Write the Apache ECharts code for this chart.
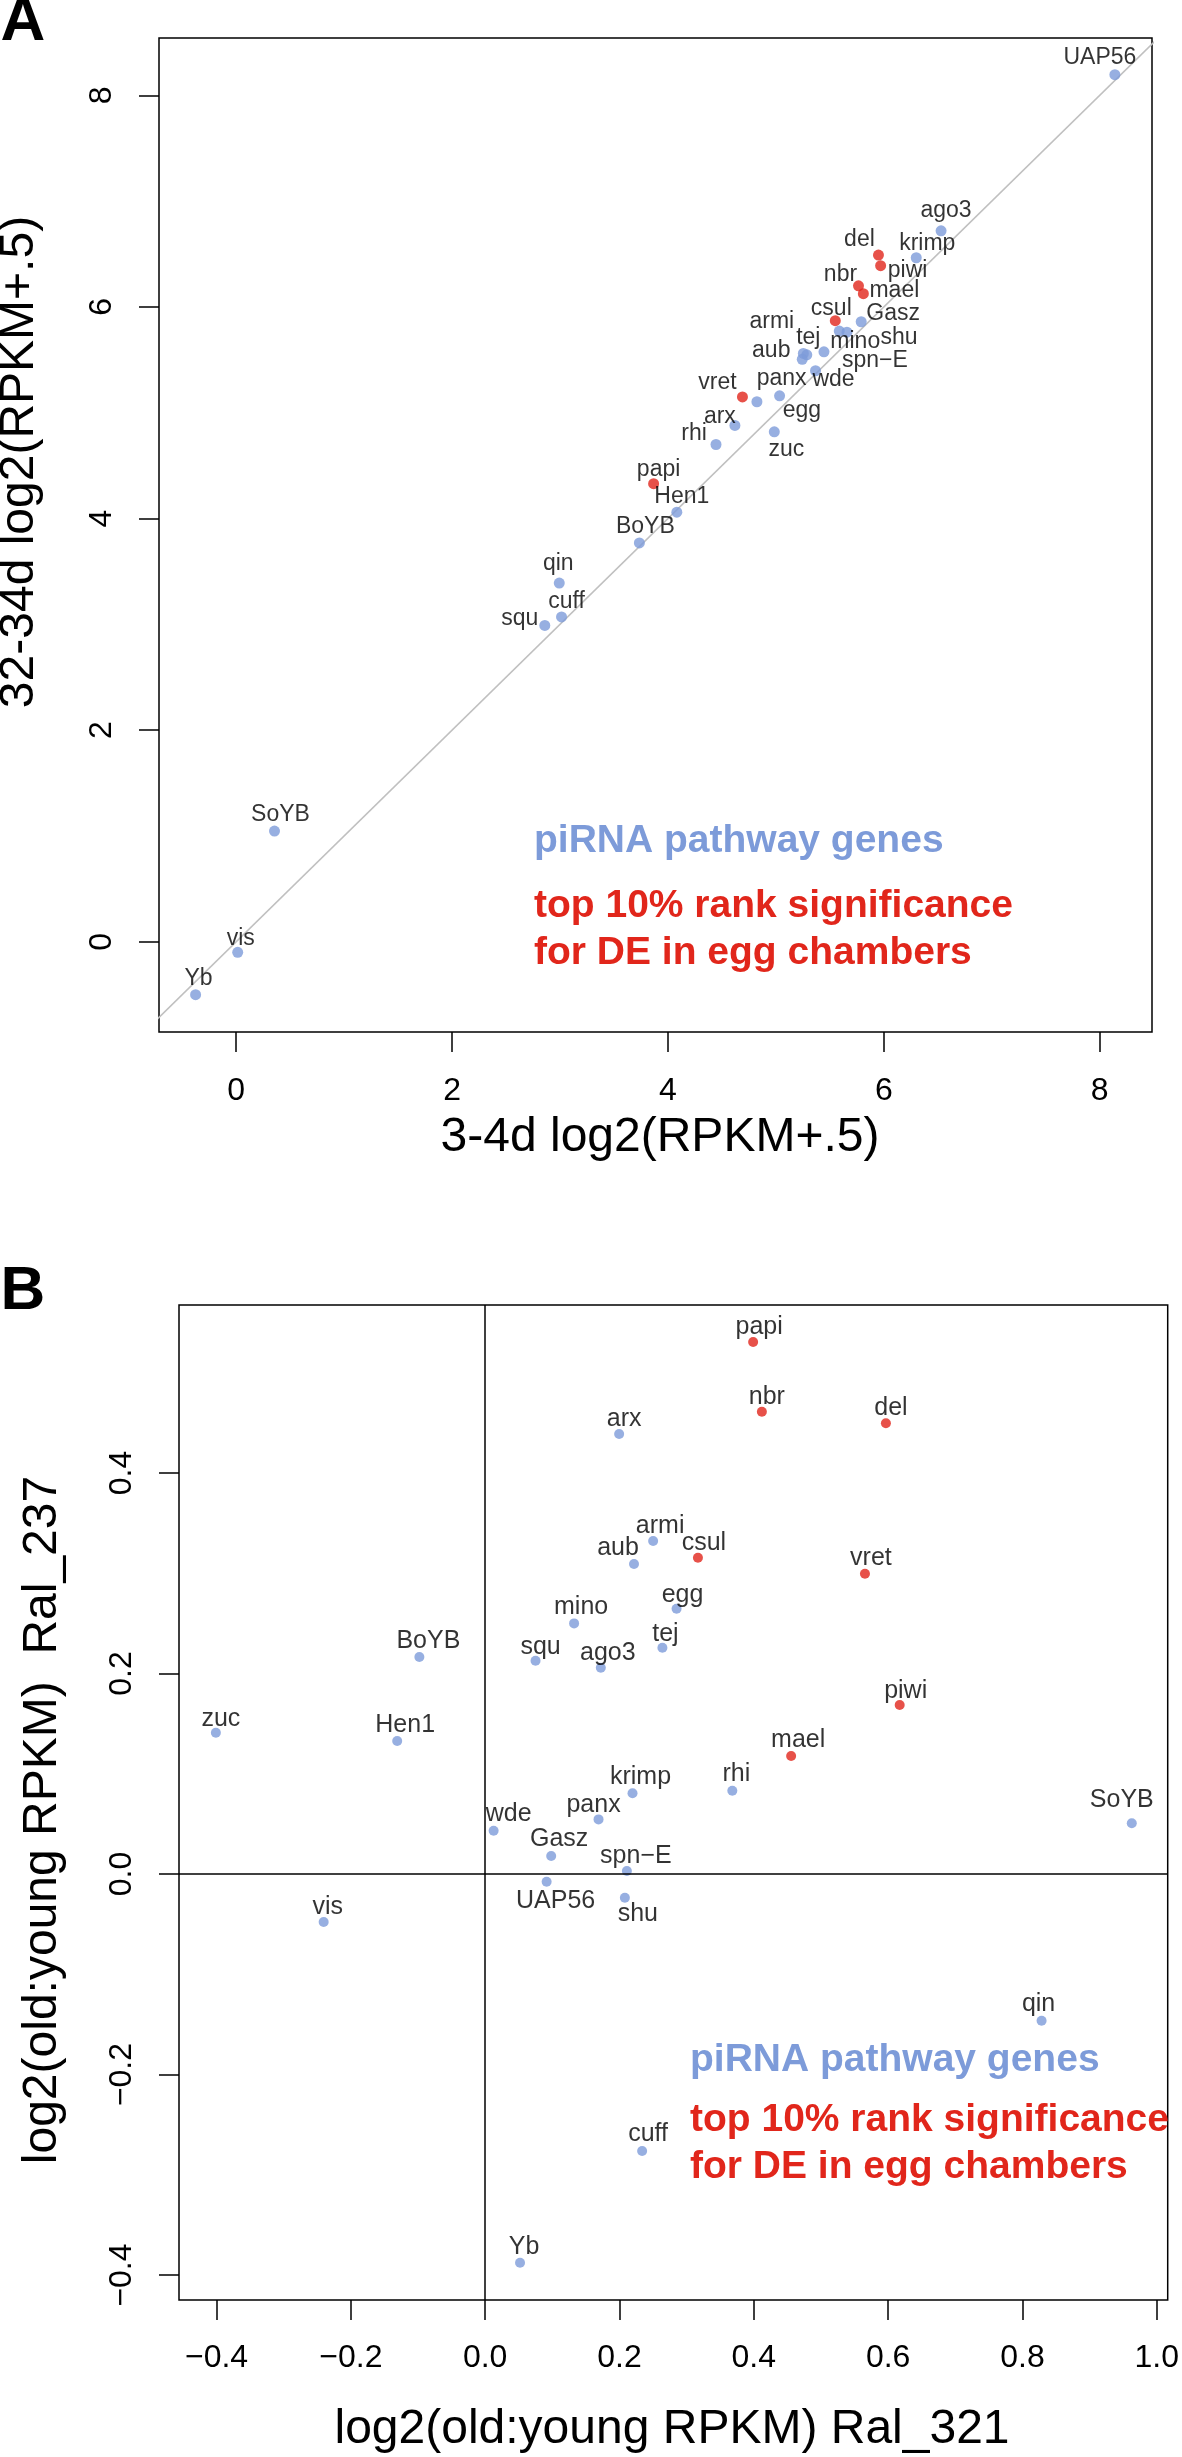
<!DOCTYPE html>
<html><head><meta charset="utf-8">
<script src="https://cdn.jsdelivr.net/npm/echarts@6/dist/echarts.min.js"></script>
<style>html,body{margin:0;padding:0;background:#fff}#c{width:1182px;height:2457px}</style>
</head><body><div id="c"></div>
<script>
// ---------------- data ----------------
const genes = ['UAP56','ago3','krimp','del','piwi','nbr','mael','csul','Gasz','armi','tej','mino','shu','aub','spn-E','panx','wde','vret','arx','egg','rhi','zuc','papi','Hen1','BoYB','qin','cuff','squ','SoYB','vis','Yb'];
const deGenes = ['del','piwi','nbr','mael','csul','vret','papi'];
// Panel A: log2(RPKM+.5)
const young34d = [8.14,6.53,6.30,5.95,5.97,5.765,5.81,5.55,5.79,5.286,5.254,5.587,5.658,5.244,5.445,5.034,5.367,4.69,4.62,4.824,4.445,4.985,3.867,4.082,3.735,2.993,3.014,2.859,0.355,0.014,-0.376];
const old3234d = [8.195,6.72,6.465,6.49,6.39,6.20,6.125,5.87,5.86,5.548,5.561,5.772,5.762,5.505,5.576,5.16,5.397,5.15,4.88,5.104,4.70,4.82,4.33,4.06,3.77,3.39,3.07,2.99,1.046,-0.10,-0.50];
// Panel B: log2(old:young RPKM)
const ral321 = [0.0915,0.1722,0.2194,0.5967,0.6172,0.412,0.4556,0.3168,0.0983,0.2501,0.2639,0.1324,0.208,0.2216,0.211,0.1688,0.0126,0.5655,0.1995,0.285,0.368,-0.401,0.399,-0.131,-0.098,0.8285,0.2337,0.075,0.9628,-0.2405,0.0519];
const ral237 = [-0.0077,0.2058,0.0805,0.4496,0.1686,0.4612,0.1177,0.3155,0.018,0.3322,0.2258,0.25,-0.0236,0.3092,0.003,0.0545,0.0432,0.2996,0.4389,0.2647,0.0831,0.141,0.5307,0.1327,0.2165,-0.1463,-0.2763,0.2128,0.0506,-0.0479,-0.3877];
const ticksA = [0,2,4,6,8];
const ticksBx = [-0.4,-0.2,0,0.2,0.4,0.6,0.8,1.0];
const ticksBy = [-0.4,-0.2,0,0.2,0.4];
const diagA = [-1,9];
const legendLines = ['piRNA pathway genes','top 10% rank significance','for DE in egg chambers'];

// ---------------- styles (label offsets in px) ----------------
const offA = {UAP56:[-15,-17],ago3:[5,-20],krimp:[11,-14],del:[-19,-15],piwi:[27,5],nbr:[-18,-11],mael:[31,-3],csul:[-4,-12],Gasz:[32,-8],armi:[-35,-33],tej:[5,-16],mino:[16,11],shu:[52,6],aub:[-31,-9],'spn-E':[51,9],panx:[2,-17],wde:[18,9],vret:[-25,-14],arx:[-15,-9],egg:[45,9],rhi:[-22,-11],zuc:[12,18],papi:[5,-14],Hen1:[5,-16],BoYB:[6,-16],qin:[-1,-19],cuff:[5,-15],squ:[-25,-7],SoYB:[6,-16],vis:[3,-14],Yb:[3,-16]};
const offB = {UAP56:[9,19],ago3:[7,-15],krimp:[8,-16],del:[5,-15],piwi:[6,-14],nbr:[5,-15],mael:[7,-16],csul:[6,-15],Gasz:[8,-17],armi:[7,-15],tej:[3,-14],mino:[7,-16],shu:[13,16],aub:[-16,-16],'spn-E':[9,-15],panx:[-5,-14],wde:[15,-17],vret:[6,-16],arx:[5,-15],egg:[6,-14],rhi:[4,-17],zuc:[5,-14],papi:[6,-15],Hen1:[8,-16],BoYB:[9,-16],qin:[-3,-17],cuff:[6,-17],squ:[5,-14],SoYB:[-10,-23],vis:[4,-15],Yb:[4,-16]};
const BLUE = '#7d9bd9', RED = '#e1261b', FONT = '"Liberation Sans", Arial, Helvetica, sans-serif';

function pts(xs, ys, offs) {
  return genes.map((g, i) => ({
    name: g, value: [xs[i], ys[i]],
    itemStyle: {color: deGenes.includes(g) ? RED : BLUE},
    label: {offset: offs[g]}
  }));
}
const nameFmt = p => p.name.replace('-', '\u2212');
function fmt(v) { return (Math.round(v * 10) / 10).toFixed(1).replace('-', '\u2212'); }
function axisCommon(ticks, margin, rotate, formatter) {
  return {
    type: 'value', axisLine: {show: false, onZero: false}, splitLine: {show: false},
    axisTick: {show: true, inside: false, length: 20, customValues: ticks, lineStyle: {color: '#000', width: 1.5}},
    axisLabel: {customValues: ticks, margin: margin, rotate: rotate, fontSize: 32, lineHeight: 32, color: '#000', fontFamily: FONT, formatter: formatter}
  };
}
const chart = echarts.init(document.getElementById('c'), null, {renderer: 'canvas'});
const txt = (t, x, y, size, color, weight, rot, align) => ({
  type: 'text', x: x, y: y, rotation: rot || 0, silent: true,
  style: {text: t, fill: color, font: (weight || 'normal') + ' ' + size + 'px ' + FONT, align: align || 'center', verticalAlign: 'middle'}
});
chart.setOption({
  animation: false,
  backgroundColor: '#fff',
  grid: [
    {left: 159, top: 38, width: 993, height: 994, show: true, borderColor: '#000', borderWidth: 1.5, backgroundColor: 'transparent'},
    {left: 179, top: 1305, width: 993, height: 995, show: true, borderColor: '#000', borderWidth: 1.5, backgroundColor: 'transparent'}
  ],
  xAxis: [
    Object.assign(axisCommon(ticksA, 43, 0, v => String(v)), {gridIndex: 0, position: 'bottom', min: -0.715, max: 8.484}),
    Object.assign(axisCommon(ticksBx, 42, 0, fmt), {gridIndex: 1, position: 'bottom', min: -0.4559, max: 1.0163})
  ],
  yAxis: [
    Object.assign(axisCommon(ticksA, 41, 90, v => String(v)), {gridIndex: 0, position: 'left', min: -0.853, max: 8.542}),
    Object.assign(axisCommon(ticksBy, 41, 90, fmt), {gridIndex: 1, position: 'left', min: -0.4249, max: 0.5676})
  ],
  series: [
    {type: 'line', xAxisIndex: 0, yAxisIndex: 0, data: diagA.map(v => [v, v]), showSymbol: false, clip: true, silent: true,
     lineStyle: {color: '#c0c0c0', width: 1.6}, z: 1},
    {type: 'scatter', xAxisIndex: 0, yAxisIndex: 0, symbolSize: 11, z: 3,
     data: pts(young34d, old3234d, offA),
     label: {show: true, formatter: nameFmt, position: 'inside', align: 'center', verticalAlign: 'middle', fontSize: 23, color: '#000', fontFamily: FONT}},
    {type: 'scatter', xAxisIndex: 1, yAxisIndex: 1, symbolSize: 10, z: 3,
     data: pts(ral321, ral237, offB),
     label: {show: true, formatter: nameFmt, position: 'inside', align: 'center', verticalAlign: 'middle', fontSize: 25, color: '#000', fontFamily: FONT},
     markLine: {silent: true, symbol: 'none', label: {show: false}, lineStyle: {color: '#000', width: 1.5, type: 'solid'},
       data: [{xAxis: 0}, {yAxis: 0}]}}
  ],
  graphic: [
    txt('A', 23, 23, 62, '#000', 'bold'),
    txt('B', 23, 1292, 62, '#000', 'bold'),
    txt('32-34d log2(RPKM+.5)', 20, 462, 48, '#000', 'normal', Math.PI / 2),
    txt('3-4d log2(RPKM+.5)', 660, 1138, 48, '#000'),
    txt('log2(old:young RPKM)  Ral_237', 43, 1820, 48, '#000', 'normal', Math.PI / 2),
    txt('log2(old:young RPKM) Ral_321', 672, 2430, 48, '#000'),
    txt(legendLines[0], 534, 841, 39, BLUE, 'bold', 0, 'left'),
    txt(legendLines[1], 534, 906, 39, RED, 'bold', 0, 'left'),
    txt(legendLines[2], 534, 953, 39, RED, 'bold', 0, 'left'),
    txt(legendLines[0], 690, 2060, 39, BLUE, 'bold', 0, 'left'),
    txt(legendLines[1], 690, 2120, 39, RED, 'bold', 0, 'left'),
    txt(legendLines[2], 690, 2167, 39, RED, 'bold', 0, 'left')
  ]
});
</script></body></html>
